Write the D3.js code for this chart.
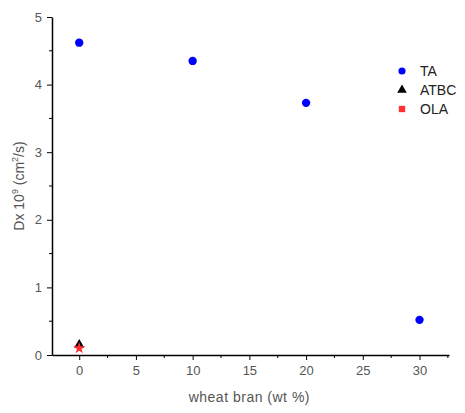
<!DOCTYPE html>
<html>
<head>
<meta charset="utf-8">
<script src="https://cdn.jsdelivr.net/npm/d3@7"></script>
<style>
body { margin: 0; background: #fff; }
text { font-family: "Liberation Sans", Arial, sans-serif; }
</style>
</head>
<body>
<div id="chart"></div>
<script>
// data
var taX = [0, 10, 20, 30];
var taY = [4.62, 4.35, 3.73, 0.52];
var atbcX = [0];
var atbcY = [0.15];
var olaX = [0];
var olaY = [0.1];
var seriesNames = ["TA", "ATBC", "OLA"];
var seriesColors = ["#0000ff", "#000000", "#ff3030"];
var xTicks = [0, 5, 10, 15, 20, 25, 30];
var yTicks = [0, 1, 2, 3, 4, 5];

var width = 465, height = 413;
var margin = { top: 17, right: 16, bottom: 58, left: 52 };
var chartWidth = width - margin.left - margin.right;
var chartHeight = height - margin.top - margin.bottom;

var svg = d3.select("#chart").append("svg")
	.attr("width", width).attr("height", height);

var g = svg.append("g")
	.attr("transform", "translate(" + margin.left + "," + margin.top + ")");

var x = d3.scaleLinear().domain([-2.4, 32.6]).range([0, chartWidth]);
var y = d3.scaleLinear().domain([0, 5]).range([chartHeight, 0]);

// minor ticks
var xMinor = d3.range(-2.5, 33, 2.5).filter(function(d) { return d >= -2.4 && d <= 32.6 && d % 5 != 0; });
var yMinor = d3.range(0.5, 5, 1);

var xAxis = g.append("g").attr("transform", "translate(0," + chartHeight + ")");
xAxis.call(d3.axisBottom(x).tickValues(xTicks).tickFormat(d3.format("d")).tickSize(5).tickPadding(6).tickSizeOuter(0));
xAxis.selectAll(".minor").data(xMinor).enter().append("line")
	.attr("x1", function(d) { return x(d); }).attr("x2", function(d) { return x(d); })
	.attr("y1", 0).attr("y2", 3).attr("stroke", "#000");

var yAxis = g.append("g");
yAxis.call(d3.axisLeft(y).tickValues(yTicks).tickFormat(d3.format("d")).tickSize(5).tickPadding(5).tickSizeOuter(0));
yAxis.selectAll(".minor").data(yMinor).enter().append("line")
	.attr("y1", function(d) { return y(d); }).attr("y2", function(d) { return y(d); })
	.attr("x1", 0).attr("x2", -3).attr("stroke", "#000");

g.selectAll(".domain").attr("stroke", "#000").attr("stroke-width", 1.5);
g.selectAll(".tick text").attr("fill", "#555").style("font-size", "13px");

// axis titles
svg.append("text")
	.attr("x", margin.left + x(15)).attr("y", 402)
	.attr("text-anchor", "middle").attr("fill", "#555")
	.style("font-size", "14px")
	.style("letter-spacing", "0.5px")
	.text("wheat bran (wt %)");

var yTitle = svg.append("text")
	.attr("transform", "translate(24," + (margin.top + y(2.5)) + ") rotate(-90)")
	.attr("text-anchor", "middle").attr("fill", "#555")
	.style("font-size", "14px");
yTitle.append("tspan").text("Dx 10");
yTitle.append("tspan").attr("dy", -6).style("font-size", "9px").text("9");
yTitle.append("tspan").attr("dy", 6).text(" (cm");
yTitle.append("tspan").attr("dy", -6).style("font-size", "9px").text("2");
yTitle.append("tspan").attr("dy", 6).text("/s)");

// markers
var series = [
	{ xs: taX, ys: taY, shape: d3.symbolCircle, size: 55 },
	{ xs: atbcX, ys: atbcY, shape: d3.symbolTriangle, size: 45 },
	{ xs: olaX, ys: olaY, shape: d3.symbolStar, size: 45 }
];

series.forEach(function(s, i) {
	g.selectAll(".pt" + i)
		.data(d3.zip(s.xs, s.ys))
		.enter().append("path")
		.attr("d", d3.symbol().type(s.shape).size(s.size))
		.attr("transform", function(d) { return "translate(" + x(d[0]) + "," + y(d[1]) + ")"; })
		.attr("fill", seriesColors[i]);
});

// legend
var legend = svg.append("g").attr("transform", "translate(402,71)");
var legendShapes = [d3.symbolCircle, d3.symbolTriangle, d3.symbolSquare];
seriesNames.forEach(function(name, i) {
	var row = legend.append("g").attr("transform", "translate(0," + (i * 19) + ")");
	row.append("path")
		.attr("d", d3.symbol().type(legendShapes[i]).size(40))
		.attr("fill", seriesColors[i]);
	row.append("text")
		.attr("x", 18).attr("y", 5)
		.attr("fill", "#222")
		.style("font-size", "14px")
		.text(name);
});
</script>
</body>
</html>
